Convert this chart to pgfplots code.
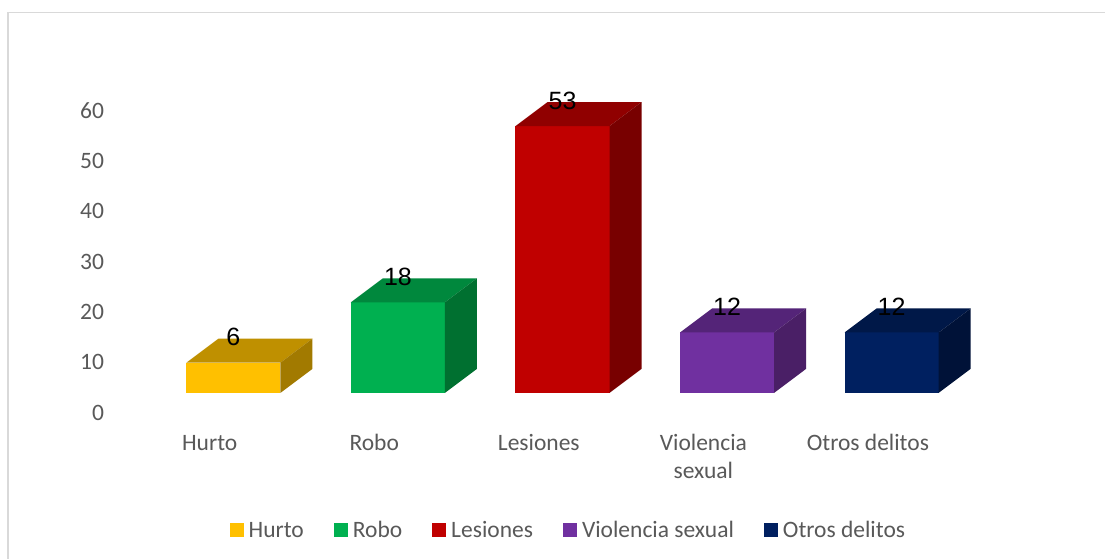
\documentclass[border=0pt]{standalone}
\usepackage{fontspec}
\usepackage{pgfplots}
\usepackage{pgfplotstable}
\pgfplotsset{compat=1.18}
\newfontfamily\carlito{Carlito}
\newfontfamily\arialf{Liberation Sans}
\definecolor{labgray}{HTML}{595959}
\definecolor{bordergray}{HTML}{D9D9D9}
\definecolor{hurF}{HTML}{FFC000}\definecolor{hurT}{HTML}{BF9000}\definecolor{hurS}{HTML}{A27A00}
\definecolor{robF}{HTML}{00B050}\definecolor{robT}{HTML}{00883D}\definecolor{robS}{HTML}{007030}
\definecolor{lesF}{HTML}{C00000}\definecolor{lesT}{HTML}{900000}\definecolor{lesS}{HTML}{780000}
\definecolor{vioF}{HTML}{7030A0}\definecolor{vioT}{HTML}{542478}\definecolor{vioS}{HTML}{4A1F66}
\definecolor{otrF}{HTML}{002060}\definecolor{otrT}{HTML}{001848}\definecolor{otrS}{HTML}{001238}

\pgfplotstableread{
x v
0.144 6
1.144 18
2.144 53
3.144 12
4.144 12
}\datatbl

% 3D bar: #1 x centre, #2 value, #3 front, #4 top, #5 side
\newcommand{\bartd}[5]{%
  \pgfmathsetmacro\xl{#1-0.2857}%
  \pgfmathsetmacro\xr{#1+0.2857}%
  \pgfmathsetmacro\xrr{#1+0.2857+0.1945}%
  \pgfmathsetmacro\xlr{#1-0.2857+0.1945}%
  \pgfmathsetmacro\yb{3.9}%
  \pgfmathsetmacro\yt{3.9+#2}%
  \pgfmathsetmacro\ybb{3.9+4.77}%
  \pgfmathsetmacro\ytt{3.9+#2+4.77}%
  \edef\temp{%
    \noexpand\addplot[fill=#3, draw=none, forget plot] coordinates {(\xl,\yb) (\xr,\yb) (\xr,\yt) (\xl,\yt)} --cycle;
    \noexpand\addplot[fill=#4, draw=none, forget plot] coordinates {(\xl,\yt) (\xr,\yt) (\xrr,\ytt) (\xlr,\ytt)} --cycle;
    \noexpand\addplot[fill=#5, draw=none, forget plot] coordinates {(\xr,\yb) (\xrr,\ybb) (\xrr,\ytt) (\xr,\yt)} --cycle;
  }\temp
}

\begin{document}
\begin{tikzpicture}
\useasboundingbox (0pt,-558pt) rectangle (1105pt,0pt);
\fill[white] (0pt,-558pt) rectangle (1105pt,0pt);
\draw[bordergray, line width=1.3pt] (8pt,-560pt) -- (8pt,-12.3pt) -- (1110pt,-12.3pt);
\begin{axis}[
  at={(78.06pt,-412.5pt)}, anchor=south west,
  scale only axis, width=921.5pt, height=302pt,
  xmin=-0.8, xmax=4.8, ymin=0, ymax=60,
  enlargelimits=false, clip=false,
  axis line style={draw=none},
  major tick length=0pt,
  ytick={0,10,...,60},
  xtick={0,1,2,3,4},
  xticklabels={Hurto, Robo, Lesiones, {\begin{tabular}[t]{@{}c@{}}Violencia\\sexual\end{tabular}}, Otros delitos},
  /pgf/number format/assume math mode=true,
  tick label style={font=\carlito\fontsize{23.5}{28}\selectfont, text=labgray, inner sep=0pt},
  yticklabel style={anchor=east, xshift=26.2pt},
  xticklabel style={anchor=base, yshift=-37.5pt},
  legend style={at={(0.531,-0.388)}, anchor=center, draw=none, fill=none,
    legend columns=-1, font=\carlito\fontsize{23.5}{28}\selectfont, text=labgray,
    /tikz/every odd column/.style={column sep=5pt},
    /tikz/every even column/.style={column sep=30pt},
    nodes={inner sep=0pt, text height=15pt, text depth=0pt}},
  legend image code/.code={\fill[#1, draw=none] (0pt,-7pt) rectangle (14pt,7pt);},
]
\bartd{0.144}{6}{hurF}{hurT}{hurS}
\bartd{1.144}{18}{robF}{robT}{robS}
\bartd{2.144}{53}{lesF}{lesT}{lesS}
\bartd{3.144}{12}{vioF}{vioT}{vioS}
\bartd{4.144}{12}{otrF}{otrT}{otrS}
\addplot[draw=none, mark=none, forget plot, point meta=explicit,
  nodes near coords,
  nodes near coords style={font=\arialf\fontsize{25}{30}\selectfont, text=black, anchor=center, inner sep=0pt}]
  table[x=x, y expr=\thisrow{v}+9.0, meta=v] {\datatbl};
\addlegendimage{fill=hurF, draw=none}\addlegendentry{Hurto}
\addlegendimage{fill=robF, draw=none}\addlegendentry{Robo}
\addlegendimage{fill=lesF, draw=none}\addlegendentry{Lesiones}
\addlegendimage{fill=vioF, draw=none}\addlegendentry{Violencia sexual}
\addlegendimage{fill=otrF, draw=none}\addlegendentry{Otros delitos}
\end{axis}
\end{tikzpicture}
\end{document}
